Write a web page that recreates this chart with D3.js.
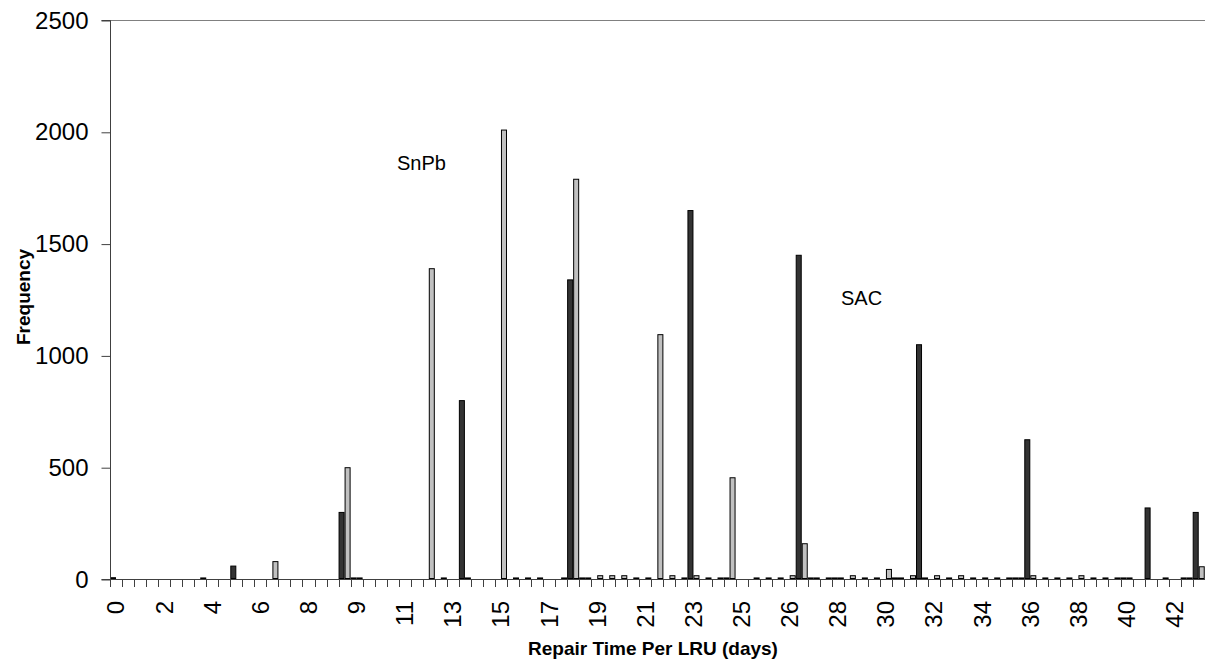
<!DOCTYPE html>
<html>
<head>
<meta charset="utf-8">
<script src="https://cdn.jsdelivr.net/npm/d3@7"></script>
<style>
  html, body { margin: 0; padding: 0; background: #fff; }
  svg { display: block; font-family: "Liberation Sans", Arial, sans-serif; }
</style>
</head>
<body>
<svg id="chart" width="1205" height="666"></svg>
<script>
// Category bin values (repair time per LRU, days)
const categories = [
  0, 0.47, 0.95, 1.42, 1.89, 2.36, 2.84, 3.31, 3.78, 4.25,
  4.73, 5.20, 5.67, 6.14, 6.62, 7.09, 7.56, 8.03, 8.51, 8.98,
  9.45, 9.92, 10.40, 10.87, 11.34, 11.81, 12.29, 12.76, 13.23, 13.70,
  14.18, 14.65, 15.12, 15.59, 16.07, 16.54, 17.01, 17.48, 17.96, 18.43,
  18.90, 19.37, 19.85, 20.32, 20.79, 21.26, 21.74, 22.21, 22.68, 23.15,
  23.63, 24.10, 24.57, 25.04, 25.52, 25.99, 26.46, 26.93, 27.41, 27.88,
  28.35, 28.82, 29.30, 29.77, 30.24, 30.71, 31.19, 31.66, 32.13, 32.60,
  33.08, 33.55, 34.02, 34.49, 34.97, 35.44, 35.91, 36.38, 36.86, 37.33,
  37.80, 38.27, 38.75, 39.22, 39.69, 40.16, 40.64, 41.11, 41.58, 42.05,
  42.53
];

// SAC (dark bars)
const sacValues = [
  8, 0, 0, 0, 0, 0, 0, 0, 0, 0,
  60, 0, 0, 0, 0, 0, 0, 0, 0, 300,
  7, 0, 0, 0, 0, 0, 0, 0, 0, 800,
  0, 0, 0, 0, 0, 0, 0, 0, 1340, 7,
  0, 0, 0, 0, 0, 0, 0, 0, 1650, 0,
  0, 7, 0, 0, 0, 0, 0, 1450, 7, 0,
  7, 0, 0, 0, 0, 7, 0, 1050, 0, 0,
  0, 0, 0, 0, 0, 7, 625, 0, 0, 0,
  0, 0, 0, 0, 7, 0, 320, 0, 0, 7,
  300
];

// SnPb (light grey bars)
const snpbValues = [
  0, 0, 0, 0, 0, 0, 0, 7, 0, 0,
  0, 0, 0, 80, 0, 0, 0, 0, 0, 500,
  7, 0, 0, 0, 0, 0, 1390, 7, 0, 7,
  0, 0, 2010, 7, 7, 7, 0, 7, 1790, 7,
  17, 17, 17, 7, 7, 1095, 17, 7, 17, 7,
  7, 455, 0, 7, 7, 7, 17, 160, 7, 7,
  7, 17, 7, 7, 45, 7, 17, 7, 17, 7,
  17, 7, 7, 7, 7, 7, 17, 7, 7, 7,
  17, 7, 7, 7, 7, 0, 0, 7, 0, 7,
  57
];

const seriesNames = ["SAC", "SnPb"];
const yTicks = [0, 500, 1000, 1500, 2000, 2500];

(function () {
const svg = d3.select("#chart");
const plotLeft = 110, plotTop = 20, plotBottom = 579, step = 12.03;
const plotRight = plotLeft + step * categories.length;

const x = d3.scaleBand().domain(d3.range(categories.length)).range([plotLeft, plotRight]).padding(0);
const xs = d3.scaleBand().domain(seriesNames).range([0, x.bandwidth()]).padding(0);
const y = d3.scaleLinear().domain([0, 2500]).range([plotBottom, plotTop]);

const color = { "SAC": "#333333", "SnPb": "#c0c0c0" };
const valuesBy = { "SAC": sacValues, "SnPb": snpbValues };

// plot area top border
svg.append("line").attr("x1", plotLeft).attr("x2", 1205).attr("y1", y(2500) + 0.5).attr("y2", y(2500) + 0.5)
  .attr("stroke", "#808080").attr("stroke-width", 1);

// bars
const barData = [];
categories.forEach((c, i) => {
  seriesNames.forEach(s => {
    const v = valuesBy[s][i];
    if (v > 0) barData.push({ i, s, v });
  });
});
svg.append("g").selectAll("rect").data(barData).join("rect")
  .attr("x", d => x(d.i) + xs(d.s) + 0.5)
  .attr("y", d => y(d.v) + 0.5)
  .attr("width", xs.bandwidth() - 1)
  .attr("height", d => Math.max(0, y(0) - y(d.v) - 1))
  .attr("fill", d => color[d.s])
  .attr("stroke", "#000")
  .attr("stroke-width", 1);

// y axis
const yAxis = d3.axisLeft(y).tickValues(yTicks).tickSize(9).tickPadding(13).tickFormat(d3.format("d"));
const gy = svg.append("g").attr("transform", `translate(${plotLeft + 0.5},0.5)`).call(yAxis);
gy.select(".domain").attr("stroke", "#404040").attr("d", `M-9,${y(0)}H0V${y(2500)}H-9`);
gy.selectAll(".tick line").attr("stroke", "#404040");
gy.selectAll(".tick text").attr("font-size", 24).attr("font-family", "Liberation Sans, Arial, sans-serif").attr("fill", "#000");

// x axis line and boundary ticks
const gx = svg.append("g");
gx.append("line").attr("x1", plotLeft).attr("x2", 1205).attr("y1", plotBottom + 0.5).attr("y2", plotBottom + 0.5)
  .attr("stroke", "#404040");
const boundaries = d3.range(categories.length + 1).map(i => i < categories.length ? x(i) : plotRight);
gx.selectAll("line.tk").data(boundaries).join("line").attr("class", "tk")
  .attr("x1", d => Math.round(d) + 0.5).attr("x2", d => Math.round(d) + 0.5)
  .attr("y1", plotBottom).attr("y2", plotBottom + 8)
  .attr("stroke", "#404040");

// x tick labels (every 4th category, rotated)
const labelIdx = d3.range(0, categories.length, 4);
gx.selectAll("text.xl").data(labelIdx).join("text").attr("class", "xl")
  .attr("transform", i => `translate(${x(i) + x.bandwidth() / 2},601) rotate(-90)`)
  .attr("text-anchor", "end")
  .attr("dy", "0.35em")
  .attr("font-size", 24)
  .attr("fill", "#000")
  .text(i => Math.round(categories[i]));

// axis titles
svg.append("text")
  .attr("transform", "translate(23,297) rotate(-90)")
  .attr("text-anchor", "middle").attr("dy", "0.35em")
  .attr("font-size", 19).attr("font-weight", "bold")
  .text("Frequency");
svg.append("text")
  .attr("x", 653).attr("y", 655)
  .attr("text-anchor", "middle")
  .attr("font-size", 19).attr("font-weight", "bold")
  .text("Repair Time Per LRU (days)");

// series annotations
svg.append("text").attr("x", 397).attr("y", 170).attr("font-size", 20).text("SnPb");
svg.append("text").attr("x", 841).attr("y", 305).attr("font-size", 20).text("SAC");
})();
</script>
</body>
</html>
